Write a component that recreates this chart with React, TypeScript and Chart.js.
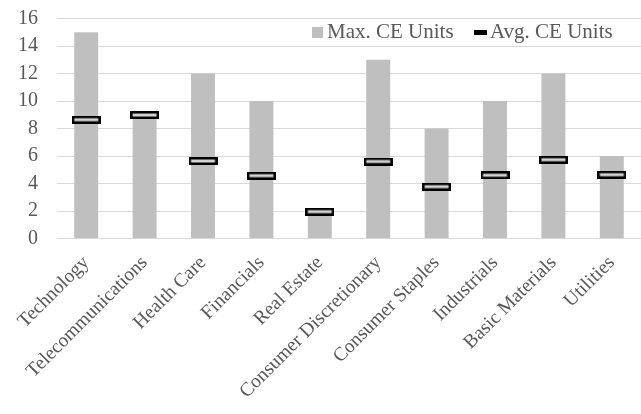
import React, { useEffect, useRef } from "react";
import { Chart, registerables } from "chart.js";

Chart.register(...registerables);

const categories = [
  "Technology",
  "Telecommunications",
  "Health Care",
  "Financials",
  "Real Estate",
  "Consumer Discretionary",
  "Consumer Staples",
  "Industrials",
  "Basic Materials",
  "Utilities",
];
const maxUnits = [15, 9, 12, 10, 2, 13, 8, 10, 12, 6];
const avgUnits = [8.64, 8.98, 5.64, 4.57, 1.95, 5.6, 3.77, 4.6, 5.73, 4.64];
const yTicks = [0, 2, 4, 6, 8, 10, 12, 14, 16];

const FONT = "'Liberation Serif', 'Times New Roman', serif";
const TEXT = "#595959";
const BAR = "#BFBFBF";
const GRID = "#D9D9D9";

function makeMarker(): HTMLCanvasElement {
  const c = document.createElement("canvas");
  c.width = 29;
  c.height = 8;
  const ctx = c.getContext("2d")!;
  ctx.fillStyle = "#000";
  ctx.fillRect(0, 0, 29, 8);
  ctx.fillStyle = "#D4D4D4";
  ctx.fillRect(2.5, 2.5, 24, 3);
  return c;
}

const legendPlugin = {
  id: "customLegend",
  afterDraw(chart: any) {
    const ctx = chart.ctx;
    ctx.save();
    ctx.font = `21px ${FONT}`;
    ctx.textBaseline = "middle";
    ctx.fillStyle = BAR;
    ctx.fillRect(312, 27, 11, 11);
    ctx.fillStyle = TEXT;
    ctx.fillText("Max. CE Units", 327, 32.5);
    ctx.fillStyle = "#000";
    ctx.fillRect(474, 30, 13, 5);
    ctx.fillStyle = TEXT;
    ctx.fillText("Avg. CE Units", 490, 32.5);
    ctx.restore();
  },
};

export default function App() {
  const ref = useRef<HTMLCanvasElement>(null);
  useEffect(() => {
    const marker = makeMarker();
    const chart = new Chart(ref.current!, {
      type: "bar",
      data: {
        labels: categories,
        datasets: [
          {
            type: "line",
            label: "Avg. CE Units",
            data: avgUnits,
            showLine: false,
            pointStyle: marker as any,
            pointRadius: 5,
            order: 0,
          } as any,
          {
            type: "bar",
            label: "Max. CE Units",
            data: maxUnits,
            backgroundColor: BAR,
            categoryPercentage: 1,
            barPercentage: 0.41,
            order: 1,
          },
        ],
      },
      options: {
        responsive: false,
        animation: false,
        layout: { autoPadding: false, padding: { left: 0, right: 0, top: 18.5, bottom: 0 } },
        plugins: {
          legend: { display: false },
          tooltip: { enabled: false },
        },
        scales: {
          x: {
            grid: { display: false },
            border: { display: true, color: GRID, width: 1 },
            afterFit: (axis: any) => {
              axis.height = 175.5;
              axis.paddingLeft = 0;
              axis.paddingRight = 0;
            },
            ticks: {
              autoSkip: false,
              maxRotation: 45,
              minRotation: 45,
              color: TEXT,
              font: { family: FONT, size: 19.5 },
              padding: 5,
            },
          },
          y: {
            min: 0,
            max: 16,
            afterBuildTicks: (axis: any) => {
              axis.ticks = yTicks.map((v) => ({ value: v }));
            },
            afterFit: (axis: any) => {
              axis.width = 57;
              axis.paddingTop = 0;
              axis.paddingBottom = 0;
            },
            grid: { color: GRID, drawTicks: false },
            border: { display: false },
            ticks: {
              color: TEXT,
              font: { family: FONT, size: 20 },
              padding: 19,
            },
          },
        },
      },
      plugins: [legendPlugin],
    });
    return () => chart.destroy();
  }, []);
  return (
    <div style={{ position: "absolute", left: 0, top: 0, width: 641, height: 414 }}>
      <canvas ref={ref} width={641} height={414} />
    </div>
  );
}
